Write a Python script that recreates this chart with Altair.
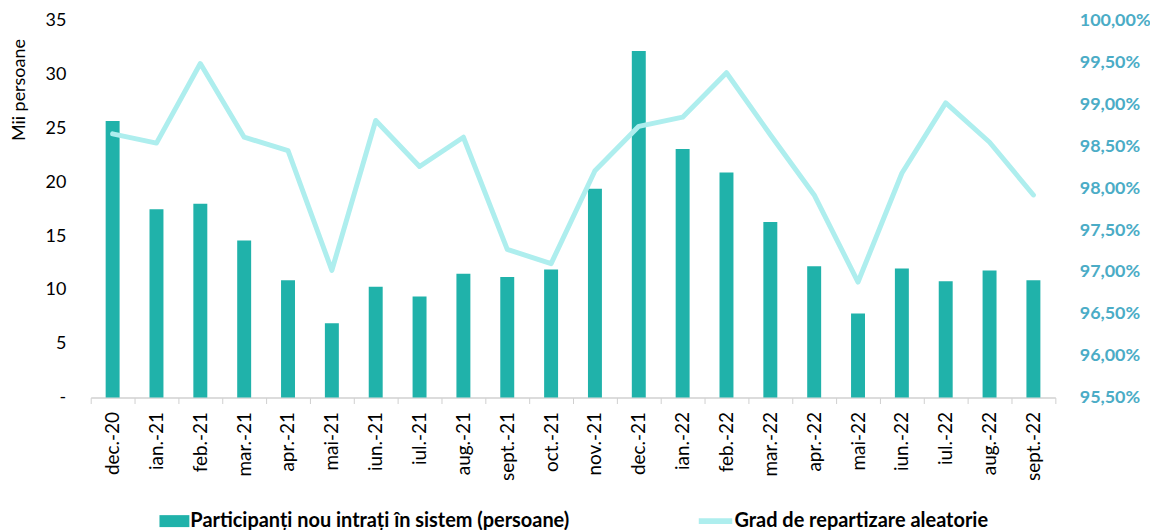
import altair as alt
import pandas as pd

luni = ["dec.-20", "ian.-21", "feb.-21", "mar.-21", "apr.-21", "mai-21", "iun.-21", "iul.-21",
        "aug.-21", "sept.-21", "oct.-21", "nov.-21", "dec.-21", "ian.-22", "feb.-22", "mar.-22",
        "apr.-22", "mai-22", "iun.-22", "iul.-22", "aug.-22", "sept.-22"]
participanti = [25.7, 17.5, 18.0, 14.6, 10.9, 6.9, 10.3, 9.4, 11.5, 11.2, 11.9, 19.4,
                32.2, 23.1, 20.9, 16.3, 12.2, 7.8, 12.0, 10.8, 11.8, 10.9]
grad = [98.65, 98.54, 99.49, 98.61, 98.45, 97.02, 98.81, 98.26, 98.61, 97.27, 97.10, 98.21,
        98.74, 98.85, 99.38, 98.64, 97.92, 96.88, 98.18, 99.02, 98.55, 97.92]

serie_bar = "Participanți nou intrați în sistem (persoane)"
serie_linie = "Grad de repartizare aleatorie"

df = pd.DataFrame({"luna": luni, "participanti": participanti, "grad": grad,
                   "s1": serie_bar, "s2": serie_linie})

FONT = "Lato"
x = alt.X("luna:N", sort=luni, title=None,
          scale=alt.Scale(paddingInner=0, paddingOuter=0),
          axis=alt.Axis(labelAngle=-90, labelFontSize=19, labelColor="#000000", labelFont=FONT,
                        domainColor="#d0d0d0", tickColor="#d0d0d0", tickBand="extent",
                        tickSize=6, labelPadding=8, domainWidth=1.5))

bars = alt.Chart(df).mark_bar(size=14).encode(
    x=x,
    y=alt.Y("participanti:Q", title="Mii persoane",
            scale=alt.Scale(domain=[0, 35], nice=False),
            axis=alt.Axis(values=[0, 5, 10, 15, 20, 25, 30, 35], grid=False, domain=False, ticks=False,
                          labelExpr="datum.value == 0 ? '-' : datum.label",
                          labelFontSize=18, labelColor="#000000", labelFont=FONT, labelPadding=25,
                          titleFont=FONT, titleFontSize=18, titleFontWeight="normal",
                          titleColor="#000000", titleX=-71, titleY=69, titleAngle=-90,
                          titleAlign="center", titleBaseline="middle")),
    color=alt.Color("s1:N", scale=alt.Scale(range=["#20B2AA"]),
                    legend=alt.Legend(title=None, orient="none", legendX=72, legendY=490,
                                      symbolType="M-1.25,-0.5H1.25V0.5H-1.25Z", symbolSize=576,
                                      symbolStrokeWidth=0, labelFont=FONT, labelFontSize=20,
                                      labelFontWeight="bold", labelColor="#000000", labelLimit=700,
                                      labelOffset=4)),
)

line = alt.Chart(df).mark_line(strokeWidth=5, strokeCap="round", strokeJoin="round").encode(
    x=x,
    y=alt.Y("grad:Q", title=None,
            scale=alt.Scale(domain=[95.5, 100], nice=False, zero=False),
            axis=alt.Axis(orient="right", values=[95.5, 96, 96.5, 97, 97.5, 98, 98.5, 99, 99.5, 100],
                          grid=False, domain=False, ticks=False,
                          labelExpr="replace(format(datum.value, '.2f'), '.', ',') + '%'",
                          labelFontSize=18, labelFontWeight="bold", labelColor="#4BACC6",
                          labelFont=FONT, labelPadding=24)),
    stroke=alt.Stroke("s2:N", scale=alt.Scale(range=["#AEEEEE"]),
                      legend=alt.Legend(title=None, orient="none", legendX=612, legendY=487,
                                        symbolType="M-1.4,0H1.4", symbolStrokeWidth=6, symbolSize=576,
                                        labelFont=FONT, labelFontSize=20, labelFontWeight="bold",
                                        labelColor="#000000", labelLimit=700, labelOffset=4)),
)

chart = alt.layer(bars, line).resolve_scale(y="independent").properties(
    width=968, height=378,
    autosize=alt.AutoSizeParams(type="none"),
    padding={"left": 83, "top": 12, "right": 95, "bottom": 132},
    background="#ffffff",
).configure_view(stroke=None)

chart.save("out.html", embed_options={"renderer": "svg", "actions": False})
